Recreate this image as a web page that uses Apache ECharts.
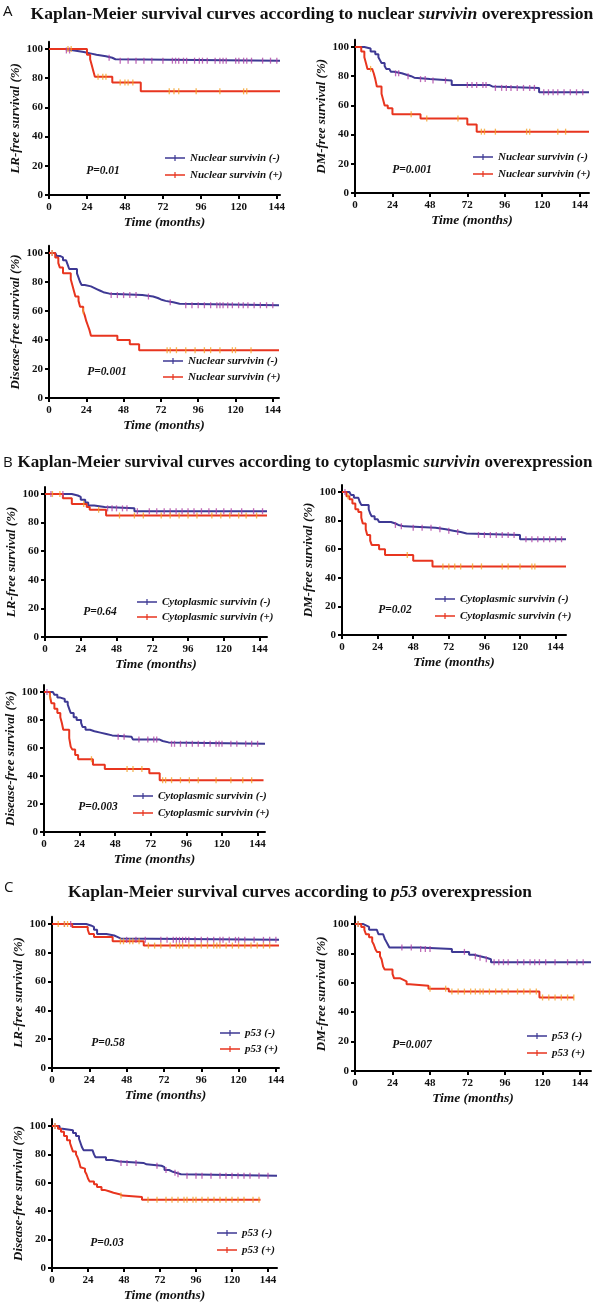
<!DOCTYPE html>
<html><head><meta charset="utf-8">
<script src="https://cdn.jsdelivr.net/npm/echarts@6/dist/echarts.min.js"></script>
<style>html,body{margin:0;padding:0;background:#fff}#c{width:600px;height:1309px}</style>
</head><body><div id="c"></div>
<script>
// ---------- DATA ----------
const xTicks = [0,24,48,72,96,120,144];
const yTicks = [0,20,40,60,80,100];

// Panel A: nuclear survivin
const A_LR_neg = [[0,100],[10,99],[16,98],[22,97],[26,96],[30,95],[36,94],[40,93],[42,92]];
const A_LR_neg_end = 146;
const A_LR_neg_cens = [11,13,38,45,50,55,60,65,72,78,80,82,85,87,92,95,97,100,105,108,110,112,118,120,123,125,128,135,140,144];
const A_LR_pos = [[0,100],[24,96],[26,93],[27,89],[28,85],[29,81],[40,77],[58,71]];
const A_LR_pos_end = 146;
const A_LR_pos_cens = [12,14,31,34,36,45,48,50,53,76,79,82,93,108,123,125];

const A_DM_neg = [[0,100],[6,99],[10,97],[13,95],[15,93],[16,91],[17,89],[19,87],[20,85],[22,84],[23,83],[25,82],[30,81],[33,80],[36,79],[38,78],[48,77],[62,74],[86,73],[88,72],[118,69]];
const A_DM_neg_end = 150;
const A_DM_neg_cens = [26,28,34,42,45,50,58,72,75,78,82,84,90,94,97,100,104,108,112,115,121,124,127,130,134,138,142,146];
const A_DM_pos = [[0,100],[4,97],[6,93],[7,89],[8,85],[11,84],[12,82],[13,78],[14,73],[17,68],[18,64],[19,60],[21,58],[24,54],[42,51],[72,47],[78,42]];
const A_DM_pos_end = 150;
const A_DM_pos_cens = [10,36,46,66,81,83,90,110,112,130,135];

const A_DFS_neg = [[0,100],[4,99],[5,98],[7,97],[9,95],[11,94],[12,92],[13,89],[18,86],[19,83],[20,80],[21,78],[23,77],[27,76],[29,75],[31,74],[33,73],[35,72],[39,71],[60,70],[67,69],[70,68],[72,67],[75,66],[80,65],[84,64]];
const A_DFS_neg_end = 148;
const A_DFS_neg_cens = [2,40,44,48,52,56,64,78,88,92,96,100,104,108,110,112,115,118,122,125,128,132,136,140,144];
const A_DFS_pos = [[0,100],[4,97],[6,93],[7,90],[9,86],[14,82],[15,78],[16,74],[17,70],[19,67],[20,63],[22,60],[23,57],[24,53],[25,50],[26,47],[27,43],[44,40],[52,37],[58,33]];
const A_DFS_pos_end = 148;
const A_DFS_pos_cens = [2,22,76,78,82,88,94,100,104,110,118,120,130];

// Panel B: cytoplasmic survivin
const B_LR_neg = [[0,100],[18,99],[22,98],[24,96],[27,94],[29,92],[33,91],[40,90],[60,88]];
const B_LR_neg_end = 149;
const B_LR_neg_cens = [4,12,42,45,48,52,55,62,70,75,80,84,88,92,96,100,105,110,115,120,125,132,140,146];
const B_LR_pos = [[0,100],[12,97],[18,93],[28,91],[30,89],[41,85]];
const B_LR_pos_end = 149;
const B_LR_pos_cens = [5,10,26,36,50,60,66,78,84,90,96,102,112,118,124,130,135,142];

const B_DM_neg = [[0,100],[5,99],[6,98],[8,96],[11,95],[12,93],[13,91],[18,88],[19,85],[20,83],[22,81],[24,80],[25,79],[33,78],[36,77],[38,76],[42,75],[63,74],[70,73],[75,72],[80,71],[84,70],[120,67]];
const B_DM_neg_end = 151;
const B_DM_neg_cens = [2,36,40,48,54,60,66,72,78,92,96,100,104,108,112,116,124,128,132,136,140,144,148];
const B_DM_pos = [[0,100],[3,97],[5,95],[7,92],[9,88],[11,86],[13,82],[14,78],[16,74],[17,70],[19,66],[20,63],[25,60],[29,56],[48,52],[61,48]];
const B_DM_pos_end = 151;
const B_DM_pos_cens = [4,44,68,72,76,80,88,94,108,112,120,128,130];

const B_DFS_neg = [[0,100],[6,99],[7,98],[9,96],[11,95],[14,93],[16,91],[17,88],[18,85],[20,82],[22,80],[25,78],[26,75],[28,73],[31,72],[34,71],[38,70],[42,69],[46,68],[59,67],[60,66],[78,65],[80,64],[84,63]];
const B_DFS_neg_end = 149;
const B_DFS_neg_cens = [2,50,54,64,70,74,76,86,88,92,96,100,104,108,112,116,118,120,126,130,136,140,144];
const B_DFS_pos = [[0,100],[4,97],[5,92],[7,88],[9,85],[11,82],[12,78],[13,73],[17,67],[18,61],[19,59],[21,55],[23,52],[33,48],[41,45],[71,42],[78,37]];
const B_DFS_pos_end = 148;
const B_DFS_pos_cens = [4,32,56,60,66,80,82,86,92,98,104,116,126,134,140];

// Panel C: p53
const C_LR_neg = [[0,100],[22,99],[25,98],[27,96],[29,93],[35,92],[40,91],[42,90],[44,89]];
const C_LR_neg_end = 146;
const C_LR_neg_cens = [8,12,48,54,60,70,74,78,80,82,84,86,88,92,96,100,104,108,110,114,118,120,124,130,136,140,144];
const C_LR_pos = [[0,100],[13,98],[23,96],[24,93],[27,91],[39,88],[59,85]];
const C_LR_pos_end = 146;
const C_LR_pos_cens = [4,8,10,44,46,50,52,56,62,66,70,76,80,82,84,88,92,96,100,104,106,108,112,116,120,124,128,132,136,140];

const C_DM_neg = [[0,100],[5,99],[7,98],[9,96],[14,95],[15,93],[18,92],[19,90],[20,88],[21,86],[22,84],[41,83],[62,81],[73,79],[76,78],[80,77],[84,76],[87,74]];
const C_DM_neg_end = 151;
const C_DM_neg_cens = [2,30,36,42,45,48,70,77,80,84,89,92,95,98,104,108,112,115,118,122,128,136,142,146];
const C_DM_pos = [[0,100],[4,98],[6,96],[7,93],[9,91],[11,88],[12,86],[13,83],[14,81],[16,78],[17,76],[18,71],[19,69],[24,66],[25,63],[29,62],[31,61],[33,59],[35,58],[47,56],[60,54],[118,50]];
const C_DM_pos_end = 140;
const C_DM_pos_cens = [2,48,58,62,66,70,74,77,80,82,86,90,94,98,104,108,112,116,120,124,128,132,136,140];

const C_DFS_neg = [[0,100],[5,98],[7,97],[14,95],[16,93],[18,91],[19,88],[20,85],[21,83],[27,82],[28,80],[29,78],[36,76],[40,75],[45,74],[61,73],[63,72],[73,71],[75,69],[78,68],[80,67],[83,66],[86,65]];
const C_DFS_neg_end = 150;
const C_DFS_neg_cens = [2,46,50,56,70,76,82,84,90,96,100,106,112,116,120,124,128,132,138,144];
const C_DFS_pos = [[0,100],[4,98],[6,96],[8,93],[10,90],[12,88],[13,85],[14,82],[16,80],[17,78],[18,75],[19,71],[20,70],[22,68],[23,66],[24,63],[25,61],[28,59],[30,57],[33,55],[35,54],[38,53],[41,52],[45,51],[47,50],[60,48]];
const C_DFS_pos_end = 139;
const C_DFS_pos_cens = [2,46,64,70,76,80,84,88,90,94,96,100,104,108,112,116,120,124,128,134,138];

const legendNames = {
  A: ['Nuclear survivin (-)', 'Nuclear survivin (+)'],
  B: ['Cytoplasmic survivin (-)', 'Cytoplasmic survivin (+)'],
  C: ['p53 (-)', 'p53 (+)']
};
const yNames = ['LR-free survival (%)', 'DM-free survival (%)', 'Disease-free survival (%)'];
const pValues = ['P=0.01','P=0.001','P=0.001','P=0.64','P=0.02','P=0.003','P=0.58','P=0.007','P=0.03'];

const plots = [
  {g:'A', y:0, neg:A_LR_neg, negEnd:A_LR_neg_end, negC:A_LR_neg_cens, pos:A_LR_pos, posEnd:A_LR_pos_end, posC:A_LR_pos_cens},
  {g:'A', y:1, neg:A_DM_neg, negEnd:A_DM_neg_end, negC:A_DM_neg_cens, pos:A_DM_pos, posEnd:A_DM_pos_end, posC:A_DM_pos_cens},
  {g:'A', y:2, neg:A_DFS_neg, negEnd:A_DFS_neg_end, negC:A_DFS_neg_cens, pos:A_DFS_pos, posEnd:A_DFS_pos_end, posC:A_DFS_pos_cens},
  {g:'B', y:0, neg:B_LR_neg, negEnd:B_LR_neg_end, negC:B_LR_neg_cens, pos:B_LR_pos, posEnd:B_LR_pos_end, posC:B_LR_pos_cens},
  {g:'B', y:1, neg:B_DM_neg, negEnd:B_DM_neg_end, negC:B_DM_neg_cens, pos:B_DM_pos, posEnd:B_DM_pos_end, posC:B_DM_pos_cens},
  {g:'B', y:2, neg:B_DFS_neg, negEnd:B_DFS_neg_end, negC:B_DFS_neg_cens, pos:B_DFS_pos, posEnd:B_DFS_pos_end, posC:B_DFS_pos_cens},
  {g:'C', y:0, neg:C_LR_neg, negEnd:C_LR_neg_end, negC:C_LR_neg_cens, pos:C_LR_pos, posEnd:C_LR_pos_end, posC:C_LR_pos_cens},
  {g:'C', y:1, neg:C_DM_neg, negEnd:C_DM_neg_end, negC:C_DM_neg_cens, pos:C_DM_pos, posEnd:C_DM_pos_end, posC:C_DM_pos_cens},
  {g:'C', y:2, neg:C_DFS_neg, negEnd:C_DFS_neg_end, negC:C_DFS_neg_cens, pos:C_DFS_pos, posEnd:C_DFS_pos_end, posC:C_DFS_pos_cens}
];

// ---------- LAYOUT ----------
const layout = [
  {left:49,  top:41.7,  width:231, height:153.3, xmax:146, legX:165, legY:151,  legGap:3, pX:103, pY:171},
  {left:355, top:39.7,  width:234, height:153.3, xmax:150, legX:473, legY:150,  legGap:3, pX:412, pY:170},
  {left:49,  top:245.8, width:230, height:152.2, xmax:148, legX:163, legY:354,  legGap:2, pX:107, pY:372},
  {left:45,  top:486.9, width:222, height:150.1, xmax:149, legX:137, legY:595,  legGap:1, pX:100, pY:612},
  {left:342, top:484.9, width:224, height:150.1, xmax:151, legX:435, legY:592,  legGap:3, pX:395, pY:610},
  {left:44,  top:685,   width:221, height:147,   xmax:149, legX:133, legY:789,  legGap:3, pX:98,  pY:807},
  {left:52,  top:916.8, width:227, height:151.2, xmax:146, legX:220, legY:1026, legGap:2, pX:108, pY:1043},
  {left:355, top:916.6, width:236, height:154.4, xmax:151, legX:527, legY:1029, legGap:3, pX:412, pY:1045},
  {left:52,  top:1118.9,width:225, height:149.1, xmax:150, legX:217, legY:1226, legGap:3, pX:107, pY:1243}
];

const NEG_LINE = '#3e3994', NEG_TICK = '#b046a8';
const POS_LINE = '#e8351f', POS_TICK = '#f4a22a';
const SERIF = '"Liberation Serif","Times New Roman",serif';

function stepVal(curve, t) {
  let v = curve[0][1];
  for (const [x, y] of curve) { if (x <= t) v = y; else break; }
  return v;
}

const grid = [], xAxis = [], yAxis = [], series = [], legend = [], graphic = [];
plots.forEach((p, i) => {
  const L = layout[i];
  grid.push({left:L.left, top:L.top, width:L.width, height:L.height, containLabel:false});
  xAxis.push({
    gridIndex:i, type:'value', min:0, max:L.xmax, interval:24,
    axisLine:{show:true, onZero:false, lineStyle:{color:'#000', width:2}},
    axisTick:{show:true, customValues:xTicks, length:4, lineStyle:{color:'#000', width:2}},
    axisLabel:{customValues:xTicks, fontFamily:SERIF, fontWeight:'bold', fontSize:11, color:'#111', margin:7},
    splitLine:{show:false},
    name:'Time (months)', nameLocation:'middle', nameGap:21,
    nameTextStyle:{fontFamily:SERIF, fontStyle:'italic', fontWeight:'bold', fontSize:13.5, color:'#111'}
  });
  yAxis.push({
    gridIndex:i, type:'value', min:0, max:105, interval:20,
    axisLine:{show:true, onZero:false, lineStyle:{color:'#000', width:2}},
    axisTick:{show:true, customValues:yTicks, length:4, lineStyle:{color:'#000', width:2}},
    axisLabel:{customValues:yTicks, fontFamily:SERIF, fontWeight:'bold', fontSize:11, color:'#111', margin:6},
    splitLine:{show:false},
    name:yNames[p.y], nameLocation:'middle', nameGap:23, nameRotate:90,
    nameTextStyle:{fontFamily:SERIF, fontStyle:'italic', fontWeight:'bold', fontSize:13, color:'#111'}
  });
  const names = legendNames[p.g];
  const mk = (curve, end, cens, name, lc, tc) => {
    const data = curve.slice();
    data.push([end, curve[curve.length-1][1]]);
    series.push({
      type:'line', name, xAxisIndex:i, yAxisIndex:i, step:'end', data,
      showSymbol:false, symbol:'none', lineStyle:{color:lc, width:2}, itemStyle:{color:lc},
      z:2, silent:true, animation:false
    });
    series.push({
      type:'scatter', name:name + ' censored', xAxisIndex:i, yAxisIndex:i,
      data:cens.map(t => [t, stepVal(curve, t)]),
      symbol:'rect', symbolSize:[1.3, 6], itemStyle:{color:tc}, z:3, silent:true, animation:false
    });
  };
  mk(p.neg, p.negEnd, p.negC, names[0], NEG_LINE, NEG_TICK);
  mk(p.pos, p.posEnd, p.posC, names[1], POS_LINE, POS_TICK);
  legend.push({
    data:names, left:L.legX, top:L.legY, orient:'vertical', padding:0, itemGap:L.legGap,
    itemWidth:20, itemHeight:8, selectedMode:false,
    icon:'path://M0,3.2 L20,3.2 L20,4.8 L0,4.8 Z M9.4,1 L10.6,1 L10.6,7 L9.4,7 Z',
    textStyle:{fontFamily:SERIF, fontStyle:'italic', fontWeight:'bold', fontSize:11, color:'#111', lineHeight:14}
  });
  graphic.push({type:'text', x:L.pX, y:L.pY, style:{
    text:pValues[i], x:0, y:0, textAlign:'center', textVerticalAlign:'middle',
    font:'italic bold 11.5px ' + SERIF, fill:'#111'}});
});

const titles = [
  {letter:'A', lx:3, ly:12, x:312, y:14, size:17.6, pre:'Kaplan-Meier survival curves according to nuclear ', it:'survivin', post:' overexpression'},
  {letter:'B', lx:3, ly:463, x:305, y:463, size:17, pre:'Kaplan-Meier survival curves according to cytoplasmic ', it:'survivin', post:' overexpression'},
  {letter:'C', lx:4, ly:888, x:300, y:893, size:17.4, pre:'Kaplan-Meier survival curves according to ', it:'p53', post:' overexpression'}
];
titles.forEach(t => {
  graphic.push({type:'text', x:t.lx, y:t.ly, style:{text:t.letter, textVerticalAlign:'middle',
    font:'15px "Open Sans", "DejaVu Sans", sans-serif', fill:'#111'}});
  graphic.push({type:'text', x:t.x, y:t.y, style:{
    text:'{b|' + t.pre + '}{i|' + t.it + '}{b|' + t.post + '}',
    textAlign:'center', textVerticalAlign:'middle',
    rich:{
      b:{fontFamily:SERIF, fontWeight:'bold', fontSize:t.size, fill:'#111', color:'#111'},
      i:{fontFamily:SERIF, fontWeight:'bold', fontStyle:'italic', fontSize:t.size, fill:'#111', color:'#111'}
    }}});
});

const chart = echarts.init(document.getElementById('c'), null, {renderer:'canvas'});
chart.setOption({
  backgroundColor:'#fff', animation:false,
  grid, xAxis, yAxis, series, legend, graphic
});
</script></body></html>
